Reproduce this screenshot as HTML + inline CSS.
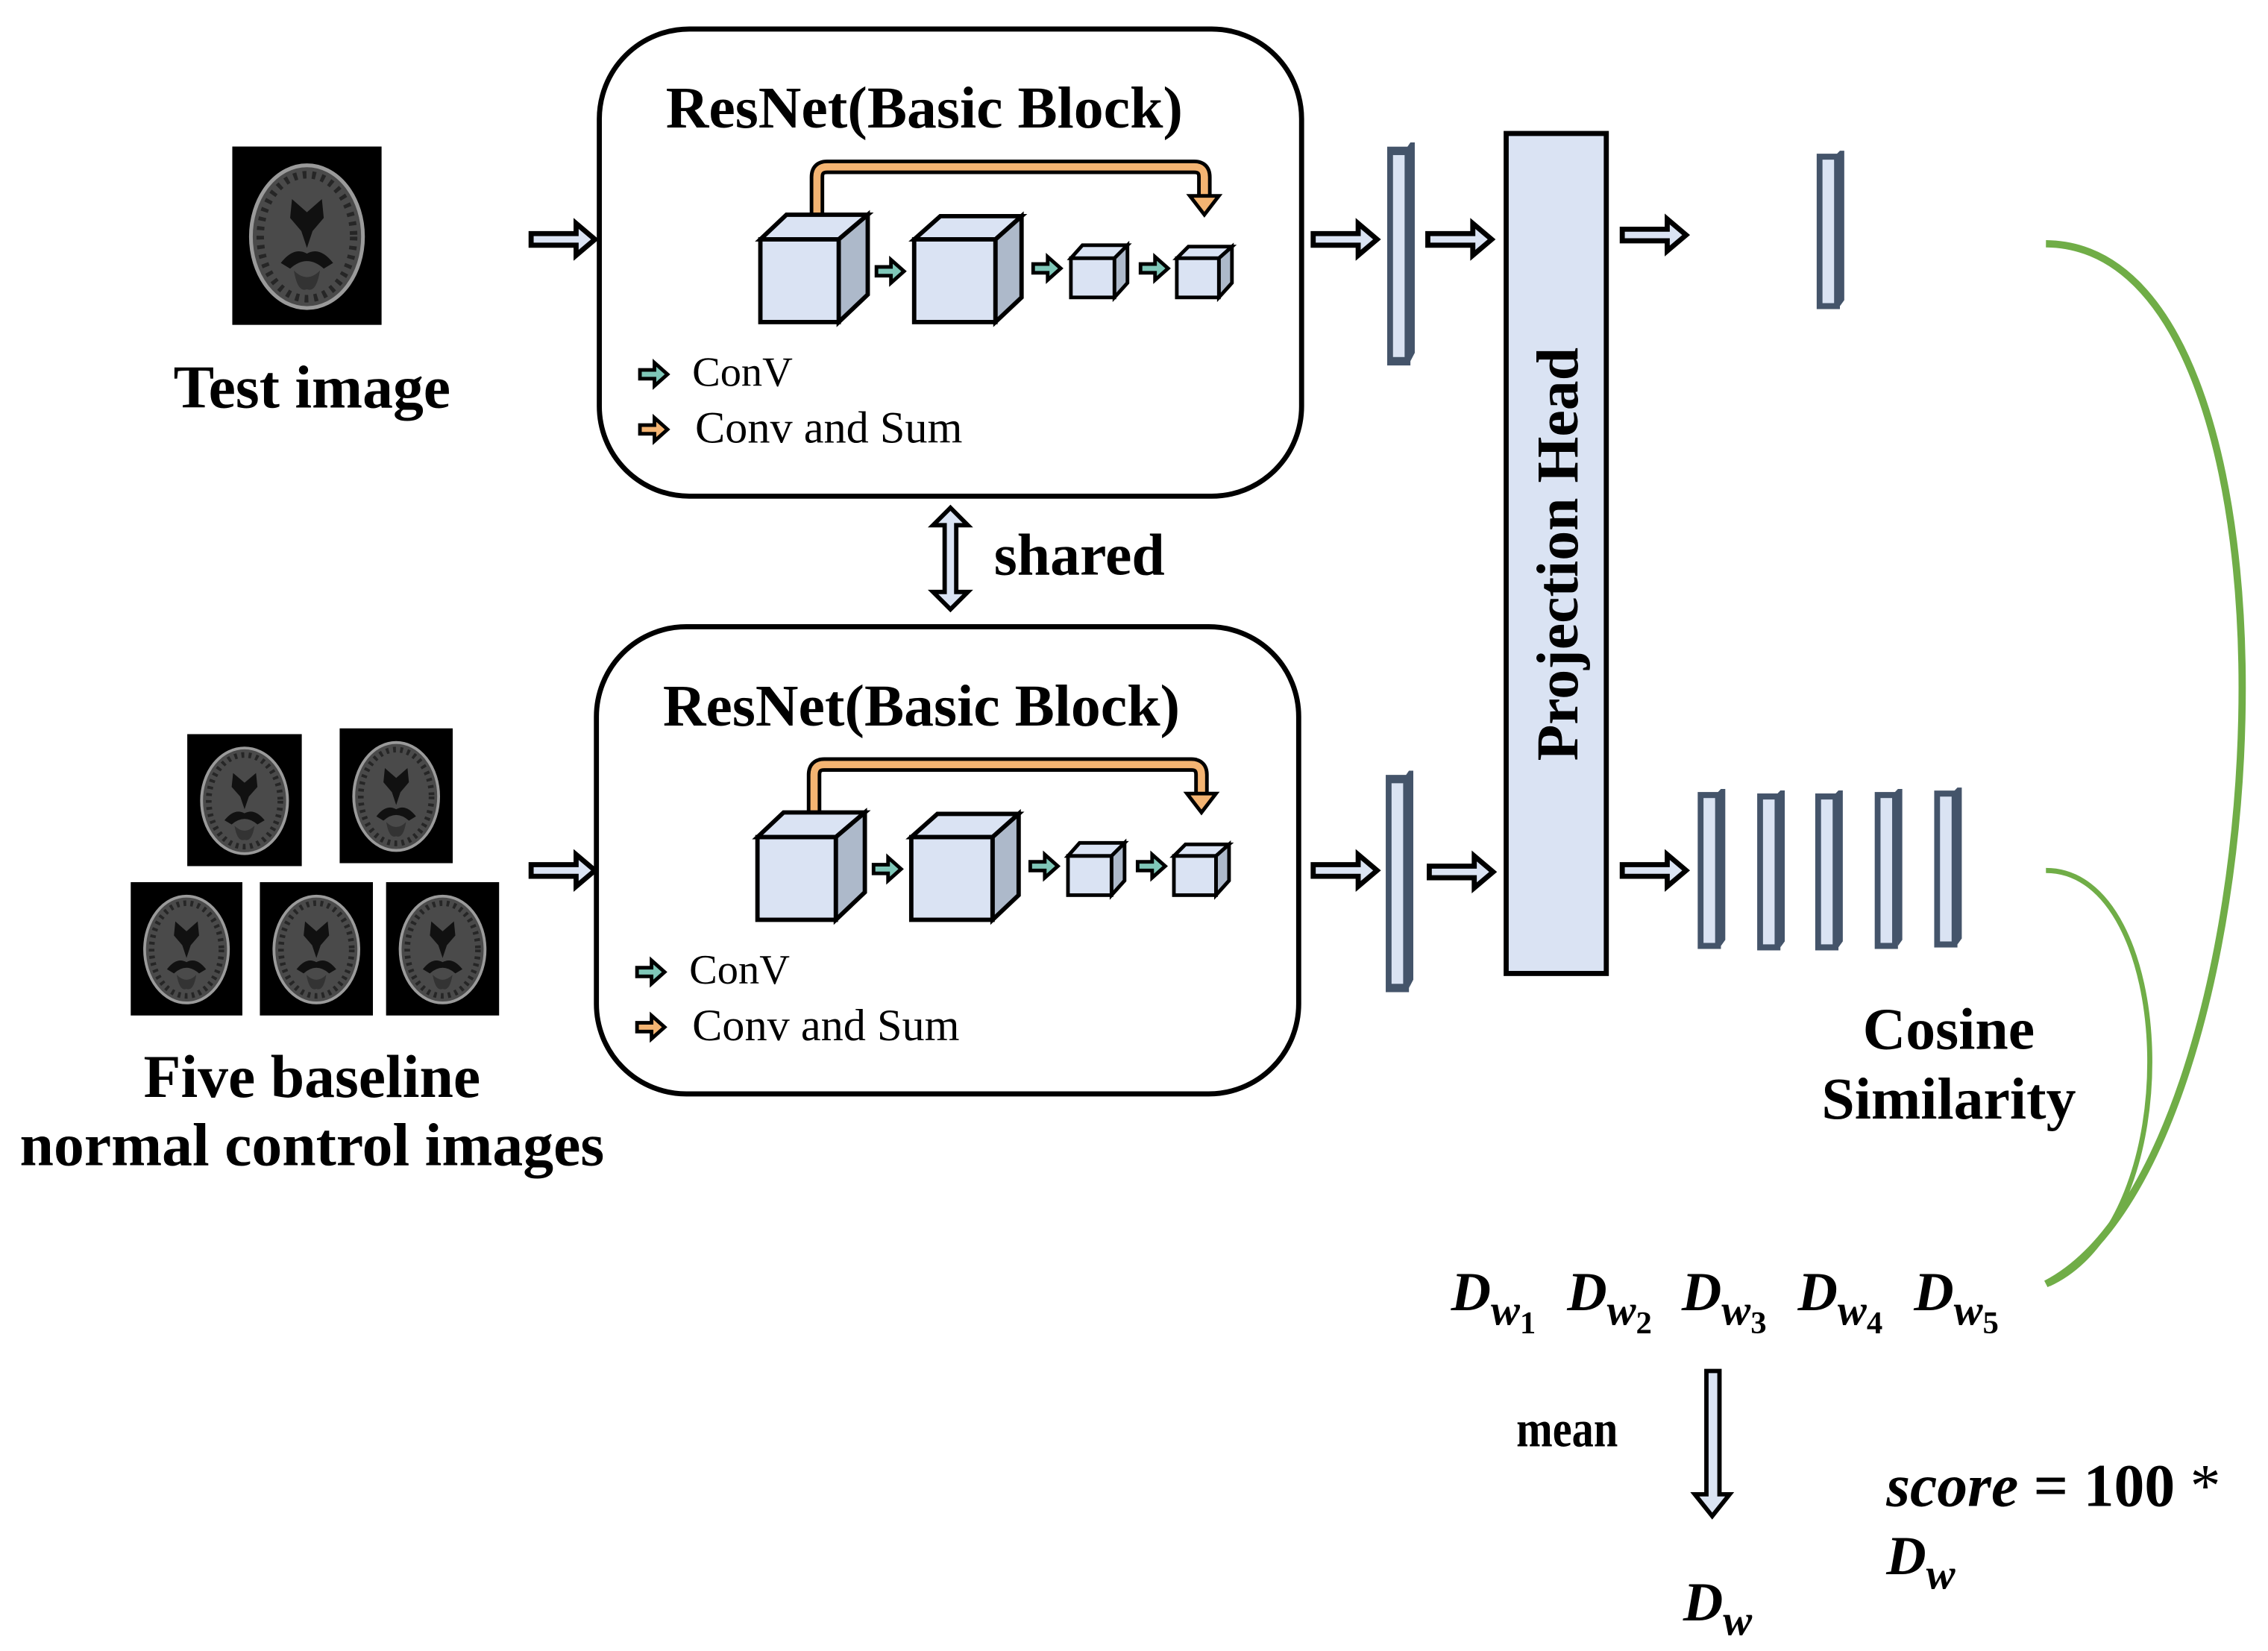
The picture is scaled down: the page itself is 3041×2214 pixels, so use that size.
<!DOCTYPE html>
<html><head><meta charset="utf-8"><style>
html,body{margin:0;padding:0;background:#fff;}
svg{display:block;}
text{font-family:"Liberation Serif",serif;fill:#000;}
.b{font-weight:bold;}
</style></head><body>
<svg width="3041" height="2214" viewBox="0 0 1563 1138" xmlns="http://www.w3.org/2000/svg">
<defs>
<symbol id="brain" viewBox="0 0 80 95" preserveAspectRatio="none">
<rect x="0" y="0" width="80" height="95" fill="#000"/>
<ellipse cx="40" cy="48" rx="30" ry="38" fill="#4a4a4a" stroke="#9a9a9a" stroke-width="2"/>
<ellipse cx="40" cy="48" rx="25" ry="33" fill="none" stroke="#262626" stroke-width="4" stroke-dasharray="2 3"/>
<path d="M32,28 L40,35 L48,28 L49,38 L43,45 L40,54 L37,45 L31,38 Z" fill="#111"/>
<path d="M26,62 Q33,53 40,57 Q47,53 54,62 L49,65 Q40,57 31,65 Z" fill="#111"/>
<path d="M33,66 Q40,73 47,66 Q45,78 40,76 Q35,78 33,66Z" fill="#333"/>
</symbol>
<g id="ha"><path d="M0,-4 H31 V-11 L44,0 L31,11 V4 H0 Z" fill="#dae3f3" stroke="#000" stroke-width="3.5" stroke-linejoin="miter"/></g>
<g id="ga"><path d="M0,-3 H10 V-8 L19,0 L10,8 V3 H0 Z" fill="#7fc7b8" stroke="#000" stroke-width="2.5"/></g>
<g id="oa"><path d="M0,-3 H10 V-8 L19,0 L10,8 V3 H0 Z" fill="#f4b472" stroke="#000" stroke-width="2.5"/></g>
<g id="block">
<rect x="413" y="20" width="484" height="322" rx="62" ry="62" fill="#fff" stroke="#000" stroke-width="3.5"/>
<text x="637" y="88" class="b" font-size="41" text-anchor="middle">ResNet(Basic Block)</text>
<path d="M563,150 V122 Q563,115 570,115 H823 Q830,115 830,122 V138" fill="none" stroke="#000" stroke-width="10"/>
<path d="M563,150 V122 Q563,115 570,115 H823 Q830,115 830,122 V138" fill="none" stroke="#f4b472" stroke-width="5"/>
<polygon points="820,135 840,135 830,148" fill="#f4b472" stroke="#000" stroke-width="2.5"/>
<polygon points="524,165 542,148 598,148 578,165" fill="#dae3f3" stroke="#000" stroke-width="3"/>
<polygon points="578,165 598,148 598,203 578,222" fill="#adb9ca" stroke="#000" stroke-width="3"/>
<rect x="524" y="165" width="54" height="57" fill="#dae3f3" stroke="#000" stroke-width="3"/>
<polygon points="630,165 648,149 704,149 686,165" fill="#dae3f3" stroke="#000" stroke-width="3"/>
<polygon points="686,165 704,149 704,205 686,222" fill="#adb9ca" stroke="#000" stroke-width="3"/>
<rect x="630" y="165" width="56" height="57" fill="#dae3f3" stroke="#000" stroke-width="3"/>
<polygon points="738,178 746,169 777,169 768,178" fill="#dae3f3" stroke="#000" stroke-width="2.5"/>
<polygon points="768,178 777,169 777,195 768,205" fill="#adb9ca" stroke="#000" stroke-width="2.5"/>
<rect x="738" y="178" width="30" height="27" fill="#dae3f3" stroke="#000" stroke-width="2.5"/>
<polygon points="811,178 819,170 849,170 840,178" fill="#dae3f3" stroke="#000" stroke-width="2.5"/>
<polygon points="840,178 849,170 849,195 840,205" fill="#adb9ca" stroke="#000" stroke-width="2.5"/>
<rect x="811" y="178" width="29" height="27" fill="#dae3f3" stroke="#000" stroke-width="2.5"/>
<use href="#ga" x="604" y="187"/>
<use href="#ga" x="712" y="185"/>
<use href="#ga" x="786" y="185"/>
<use href="#ga" x="441" y="258"/>
<use href="#oa" x="441" y="296"/>
<text x="477" y="266" font-size="29">ConV</text>
<text x="479" y="305" font-size="31">Conv and Sum</text>
</g>
<g id="bar"><rect x="0" y="0" width="12" height="100" fill="#dae3f3" stroke="#44546a" stroke-width="4"/><path d="M10,0 L14,-4 H17 V96 L14,100" fill="#44546a"/></g>
</defs>

<use href="#block"/>
<use href="#block" transform="translate(-2,412)"/>

<path d="M655,350 L667,362 H659 V408 H667 L655,420 L643,408 H651 V362 H643 Z" fill="#dae3f3" stroke="#000" stroke-width="3"/>
<text x="685" y="396" class="b" font-size="41">shared</text>

<use href="#brain" x="160" y="101" width="103" height="123"/>
<text x="215" y="281" class="b" font-size="42" text-anchor="middle">Test image</text>
<use href="#brain" x="129" y="506" width="79" height="91"/>
<use href="#brain" x="234" y="502" width="78" height="93"/>
<use href="#brain" x="90" y="608" width="77" height="92"/>
<use href="#brain" x="179" y="608" width="78" height="92"/>
<use href="#brain" x="266" y="608" width="78" height="92"/>
<text x="215" y="756" class="b" font-size="42" text-anchor="middle">Five baseline</text>
<text x="215" y="803" class="b" font-size="42" text-anchor="middle">normal control images</text>

<use href="#ha" x="366" y="165"/>
<use href="#ha" x="905" y="165"/>
<use href="#ha" x="984" y="165"/>
<use href="#ha" x="1118" y="162"/>
<use href="#ha" x="366" y="600"/>
<use href="#ha" x="905" y="600"/>
<use href="#ha" x="985" y="601"/>
<use href="#ha" x="1118" y="600"/>

<use href="#bar" transform="translate(958,104) scale(1,1.45)"/>
<use href="#bar" transform="translate(1254,108) scale(1,1.03)"/>
<use href="#bar" transform="translate(957,537) scale(1,1.44)"/>
<use href="#bar" transform="translate(1172,548) scale(1,1.04)"/>
<use href="#bar" transform="translate(1213,549) scale(1,1.04)"/>
<use href="#bar" transform="translate(1253,549) scale(1,1.04)"/>
<use href="#bar" transform="translate(1294,548) scale(1,1.04)"/>
<use href="#bar" transform="translate(1335,547) scale(1,1.04)"/>

<rect x="1038" y="92" width="69" height="579" fill="#dae3f3" stroke="#000" stroke-width="3.5"/>
<text transform="translate(1087,382) rotate(-90)" class="b" font-size="41" text-anchor="middle">Projection Head</text>

<path d="M1410,168 C1605,170 1575,800 1410,885" fill="none" stroke="#70ad47" stroke-width="5"/>
<path d="M1410,600 C1500,600 1510,840 1412,885" fill="none" stroke="#70ad47" stroke-width="3.5"/>

<text x="1343" y="723" class="b" font-size="41" text-anchor="middle">Cosine</text>
<text x="1343" y="771" class="b" font-size="41" text-anchor="middle">Similarity</text>

<g class="b" font-style="italic" font-size="38">
<text x="1000" y="903">D<tspan font-size="30" dy="10">w</tspan><tspan font-size="22" font-style="normal" dy="6">1</tspan></text>
<text x="1080" y="903">D<tspan font-size="30" dy="10">w</tspan><tspan font-size="22" font-style="normal" dy="6">2</tspan></text>
<text x="1159" y="903">D<tspan font-size="30" dy="10">w</tspan><tspan font-size="22" font-style="normal" dy="6">3</tspan></text>
<text x="1239" y="903">D<tspan font-size="30" dy="10">w</tspan><tspan font-size="22" font-style="normal" dy="6">4</tspan></text>
<text x="1319" y="903">D<tspan font-size="30" dy="10">w</tspan><tspan font-size="22" font-style="normal" dy="6">5</tspan></text>
<text x="1160" y="1117">D<tspan font-size="30" dy="10">w</tspan></text>
<text x="1300" y="1038" font-size="42">score <tspan font-style="normal">= 100 </tspan><tspan font-style="normal" font-weight="normal">*</tspan></text>
<text x="1300" y="1085">D<tspan font-size="30" dy="10">w</tspan></text>
</g>

<path d="M1176,945 H1185 V1030 H1192 L1180,1045 L1168,1030 H1176 Z" fill="#dae3f3" stroke="#000" stroke-width="3"/>
<text x="1045" y="997" class="b" font-size="36" textLength="70" lengthAdjust="spacingAndGlyphs">mean</text>
</svg>
</body></html>
